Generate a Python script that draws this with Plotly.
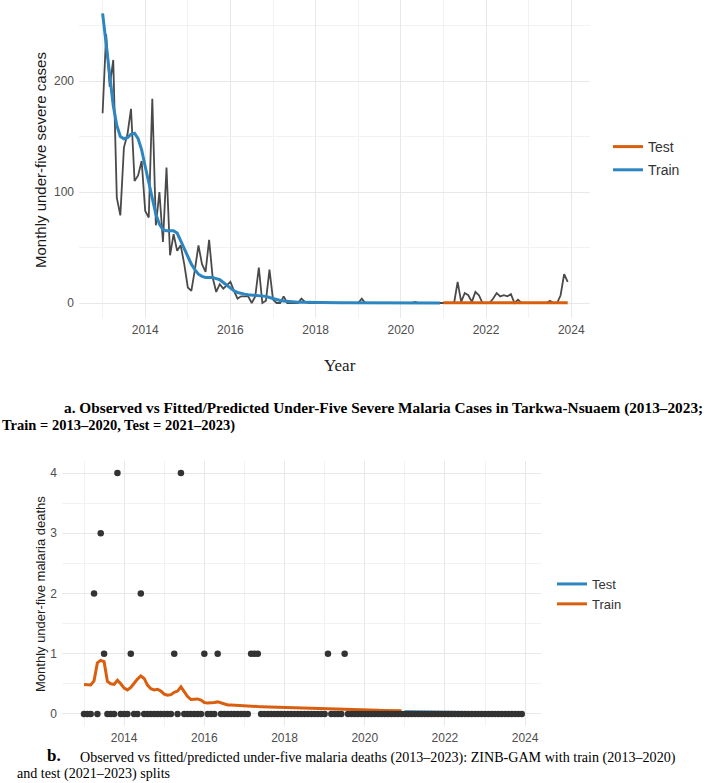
import plotly.graph_objects as go

# ---------------- data ----------------
START_YEAR = 2013
N_MONTHS = 132
TRAIN_MONTHS = 96

# (a) monthly under-five severe malaria cases, Jan 2013 - Dec 2023
cases_observed = [
    171, 242, 195, 219, 95, 79, 140, 152, 175, 110, 115, 128,
    83, 77, 184, 70, 100, 55, 122, 43, 62, 47, 52, 35,
    14, 11, 30, 52, 35, 28, 57, 23, 10, 17, 13, 16,
    19, 11, 4, 6, 6, 6, 0, 6, 32, 0, 2, 30,
    3, 0, 0, 6, 0, 0, 0, 0, 4, 1, 0, 0,
    0, 0, 0, 0, 0, 0, 0, 0, 0, 0, 0, 0,
    0, 4, 0, 0, 0, 0, 0, 0, 0, 0, 0, 0,
    0, 0, 0, 0, 1, 0, 0, 0, 0, 0, 0, 0,
    0, 0, 0, 0, 19, 1, 9, 7, 1, 10, 7, 0,
    0, 0, 4, 9, 6, 7, 6, 8, 0, 3, 0, 0,
    0, 0, 0, 0, 0, 0, 2, 0, 0, 7, 26, 19,
]
cases_fit_train = [
    261, 232, 205, 178, 160, 150, 148, 149, 152, 153, 148, 138,
    123, 108, 93, 80, 71, 66, 65, 65, 65, 63, 56, 48,
    41, 35, 30, 26, 24, 23, 23, 23, 22, 21, 18.5, 16,
    13.5, 11, 9.5, 8.5, 8, 7.5, 7.3, 7, 6.8, 6.5, 6, 5,
    4, 3, 2.3, 1.8, 1.4, 1.1, 0.9, 0.7, 0.6, 0.5, 0.4, 0.35,
    0.3, 0.28, 0.26, 0.24, 0.22, 0.2, 0.19, 0.18, 0.17, 0.16, 0.15, 0.14,
    0.13, 0.12, 0.12, 0.11, 0.1, 0.1, 0.09, 0.09, 0.08, 0.08, 0.07, 0.07,
    0.07, 0.06, 0.06, 0.06, 0.05, 0.05, 0.05, 0.05, 0.04, 0.04, 0.04, 0.04,
]
cases_fit_test = [
    0.2, 0.2, 0.2, 0.2, 0.2, 0.2, 0.2, 0.2, 0.2, 0.2, 0.2, 0.2,
    0.2, 0.2, 0.2, 0.2, 0.2, 0.2, 0.2, 0.2, 0.2, 0.2, 0.2, 0.2,
    0.2, 0.2, 0.2, 0.2, 0.2, 0.2, 0.2, 0.2, 0.2, 0.2, 0.2, 0.2,
]

# (b) monthly under-five malaria deaths, Jan 2013 - Dec 2023
deaths_observed = [
    0, 0, 0, 2, 0, 3, 1, 0, 0, 0, 4, 0,
    0, 0, 1, 0, 0, 2, 0, 0, 0, 0, 0, 0,
    0, 0, 0, 1, 0, 4, 0, 0, 0, 0, 0, 0,
    1, 0, 0, 0, 1, 0, 0, 0, 0, 0, 0, 0,
    0, 0, 1, 1, 1, 0, 0, 0, 0, 0, 0, 0,
    0, 0, 0, 0, 0, 0, 0, 0, 0, 0, 0, 0,
    0, 1, 0, 0, 0, 0, 1, 0, 0, 0, 0, 0,
    0, 0, 0, 0, 0, 0, 0, 0, 0, 0, 0, 0,
    0, 0, 0, 0, 0, 0, 0, 0, 0, 0, 0, 0,
    0, 0, 0, 0, 0, 0, 0, 0, 0, 0, 0, 0,
    0, 0, 0, 0, 0, 0, 0, 0, 0, 0, 0, 0,
]
deaths_fit_train = [
    0.49, 0.48, 0.48, 0.55, 0.85, 0.89, 0.87, 0.54, 0.50, 0.49, 0.56, 0.50,
    0.43, 0.40, 0.44, 0.51, 0.58, 0.63, 0.59, 0.48, 0.42, 0.40, 0.41, 0.38,
    0.33, 0.31, 0.32, 0.36, 0.38, 0.45, 0.36, 0.29, 0.24, 0.24, 0.25, 0.23,
    0.19, 0.18, 0.18, 0.19, 0.20, 0.18, 0.16, 0.15, 0.15, 0.145, 0.14, 0.135,
    0.13, 0.13, 0.128, 0.125, 0.122, 0.12, 0.118, 0.115, 0.113, 0.11, 0.108, 0.106,
    0.104, 0.102, 0.10, 0.098, 0.096, 0.094, 0.092, 0.09, 0.088, 0.087, 0.085, 0.084,
    0.082, 0.081, 0.079, 0.078, 0.076, 0.075, 0.073, 0.072, 0.07, 0.069, 0.068, 0.066,
    0.065, 0.064, 0.062, 0.061, 0.06, 0.059, 0.058, 0.057, 0.056, 0.055, 0.054, 0.053,
]
deaths_fit_test = [
    0.035, 0.034, 0.034, 0.033, 0.033, 0.032, 0.032, 0.031, 0.031, 0.030, 0.030, 0.029,
    0.029, 0.028, 0.028, 0.027, 0.027, 0.026, 0.026, 0.025, 0.025, 0.024, 0.024, 0.023,
    0.023, 0.022, 0.022, 0.021, 0.021, 0.020, 0.020, 0.019, 0.019, 0.018, 0.018, 0.017,
]

year_ticks = [2014, 2016, 2018, 2020, 2022, 2024]
year_minor = [2013, 2015, 2017, 2019, 2021, 2023]
cases_ticks = [0, 100, 200]
cases_minor = [50, 150, 250]
deaths_ticks = [0, 1, 2, 3, 4]
deaths_minor = [0.5, 1.5, 2.5, 3.5]

# month positions in decimal years
t_all = [START_YEAR + k / 12 for k in range(N_MONTHS)]
t_train = t_all[:TRAIN_MONTHS]
t_test = t_all[TRAIN_MONTHS:]

BLUE = "#2E86C1"
ORANGE = "#D95F0E"
OBS = "#4A4A4A"
GRID = "#E8E8E8"
GRID_MINOR = "#F2F2F2"
TICK = "#4D4D4D"
SANS = "Liberation Sans, Arial, sans-serif"
SERIF = "Liberation Serif, Times New Roman, serif"

W, H = 708, 783

def px_x(p):
    return p / W

def px_y(p):
    return 1 - p / H

fig = go.Figure()

# ---- panel a ----
fig.add_trace(go.Scatter(x=t_all, y=cases_observed, mode="lines",
                         line=dict(color=OBS, width=1.8), showlegend=False,
                         xaxis="x", yaxis="y"))
fig.add_trace(go.Scatter(x=t_test, y=cases_fit_test, mode="lines", name="Test",
                         line=dict(color=ORANGE, width=3), legend="legend",
                         legendgroup="a1", xaxis="x", yaxis="y"))
fig.add_trace(go.Scatter(x=t_train, y=cases_fit_train, mode="lines", name="Train",
                         line=dict(color=BLUE, width=3), legend="legend",
                         legendgroup="a2", xaxis="x", yaxis="y"))

# ---- panel b ----
fig.add_trace(go.Scatter(x=t_test, y=deaths_fit_test, mode="lines", name="Test",
                         line=dict(color=BLUE, width=3), legend="legend2",
                         legendgroup="b1", xaxis="x2", yaxis="y2"))
fig.add_trace(go.Scatter(x=t_train, y=deaths_fit_train, mode="lines", name="Train",
                         line=dict(color=ORANGE, width=3), legend="legend2",
                         legendgroup="b2", xaxis="x2", yaxis="y2"))
fig.add_trace(go.Scatter(x=t_all, y=deaths_observed, mode="markers",
                         marker=dict(color="#333333", size=6.5), showlegend=False,
                         xaxis="x2", yaxis="y2"))

axis_common = dict(showline=False, zeroline=False, ticks="", showgrid=True,
                   gridcolor=GRID, gridwidth=1.3,
                   tickfont=dict(family=SANS, size=12, color=TICK))

fig.update_layout(
    width=W, height=H,
    margin=dict(l=0, r=0, t=0, b=0),
    paper_bgcolor="white", plot_bgcolor="white",
    xaxis=dict(domain=[px_x(79), px_x(590)], range=[2012.446, 2024.44], anchor="y",
               tickmode="array", tickvals=year_ticks, ticktext=[str(v) for v in year_ticks],
               minor=dict(tickvals=year_minor, showgrid=True, gridcolor=GRID_MINOR, gridwidth=1),
               ticklabelstandoff=3, **axis_common),
    yaxis=dict(domain=[px_y(318), 1], range=[-13.5, 273], anchor="x",
               tickmode="array", tickvals=cases_ticks,
               minor=dict(tickvals=cases_minor, showgrid=True, gridcolor=GRID_MINOR, gridwidth=1),
               ticklabelstandoff=4, **axis_common),
    xaxis2=dict(domain=[px_x(62), px_x(541)], range=[2012.451, 2024.396], anchor="y2",
                tickmode="array", tickvals=year_ticks, ticktext=[str(v) for v in year_ticks],
                minor=dict(tickvals=year_minor, showgrid=True, gridcolor=GRID_MINOR, gridwidth=1),
                ticklabelstandoff=3, **axis_common),
    yaxis2=dict(domain=[px_y(726), px_y(461)], range=[-0.2, 4.2], anchor="x2",
                tickmode="array", tickvals=deaths_ticks,
                minor=dict(tickvals=deaths_minor, showgrid=True, gridcolor=GRID_MINOR, gridwidth=1),
                ticklabelstandoff=4, **axis_common),
    legend=dict(x=px_x(608), y=px_y(131), xanchor="left", yanchor="top",
                font=dict(family=SANS, size=14, color="#333333"),
                bgcolor="rgba(0,0,0,0)", tracegroupgap=2, itemwidth=30),
    legend2=dict(x=px_x(552), y=px_y(569), xanchor="left", yanchor="top",
                 font=dict(family=SANS, size=13, color="#333333"),
                 bgcolor="rgba(0,0,0,0)", tracegroupgap=0, itemwidth=30),
    showlegend=True,
)

annotations = [
    dict(text="Monthly under-five severe cases", x=px_x(40), y=px_y(160),
         textangle=-90, font=dict(family=SANS, size=15, color="#1A1A1A")),
    dict(text="Year", x=px_x(340), y=px_y(365),
         font=dict(family=SERIF, size=17, color="#1A1A1A")),
    dict(text="Monthly under-five malaria deaths", x=px_x(40), y=px_y(594),
         textangle=-90, font=dict(family=SANS, size=13, color="#1A1A1A")),
    dict(text="<b>a.</b> <b>Observed vs Fitted/Predicted Under-Five Severe Malaria Cases in Tarkwa-Nsuaem (2013–2023;</b>",
         x=px_x(62), y=px_y(408), xanchor="left",
         font=dict(family=SERIF, size=15.3, color="black")),
    dict(text="<b>Train = 2013–2020, Test = 2021–2023)</b>",
         x=px_x(0), y=px_y(425), xanchor="left",
         font=dict(family=SERIF, size=14.5, color="black")),
    dict(text="<b>b.</b>", x=px_x(45), y=px_y(755), xanchor="left",
         font=dict(family=SERIF, size=17, color="black")),
    dict(text="Observed vs fitted/predicted under-five malaria deaths (2013–2023): ZINB-GAM with train (2013–2020)",
         x=px_x(78), y=px_y(757), xanchor="left",
         font=dict(family=SERIF, size=14.1, color="black")),
    dict(text="and test (2021–2023) splits", x=px_x(15), y=px_y(773), xanchor="left",
         font=dict(family=SERIF, size=14.1, color="black")),
]
for a in annotations:
    a.setdefault("xanchor", "center")
    a.update(xref="paper", yref="paper", yanchor="middle", showarrow=False)
fig.update_layout(annotations=annotations)

fig.write_html("out.html")
